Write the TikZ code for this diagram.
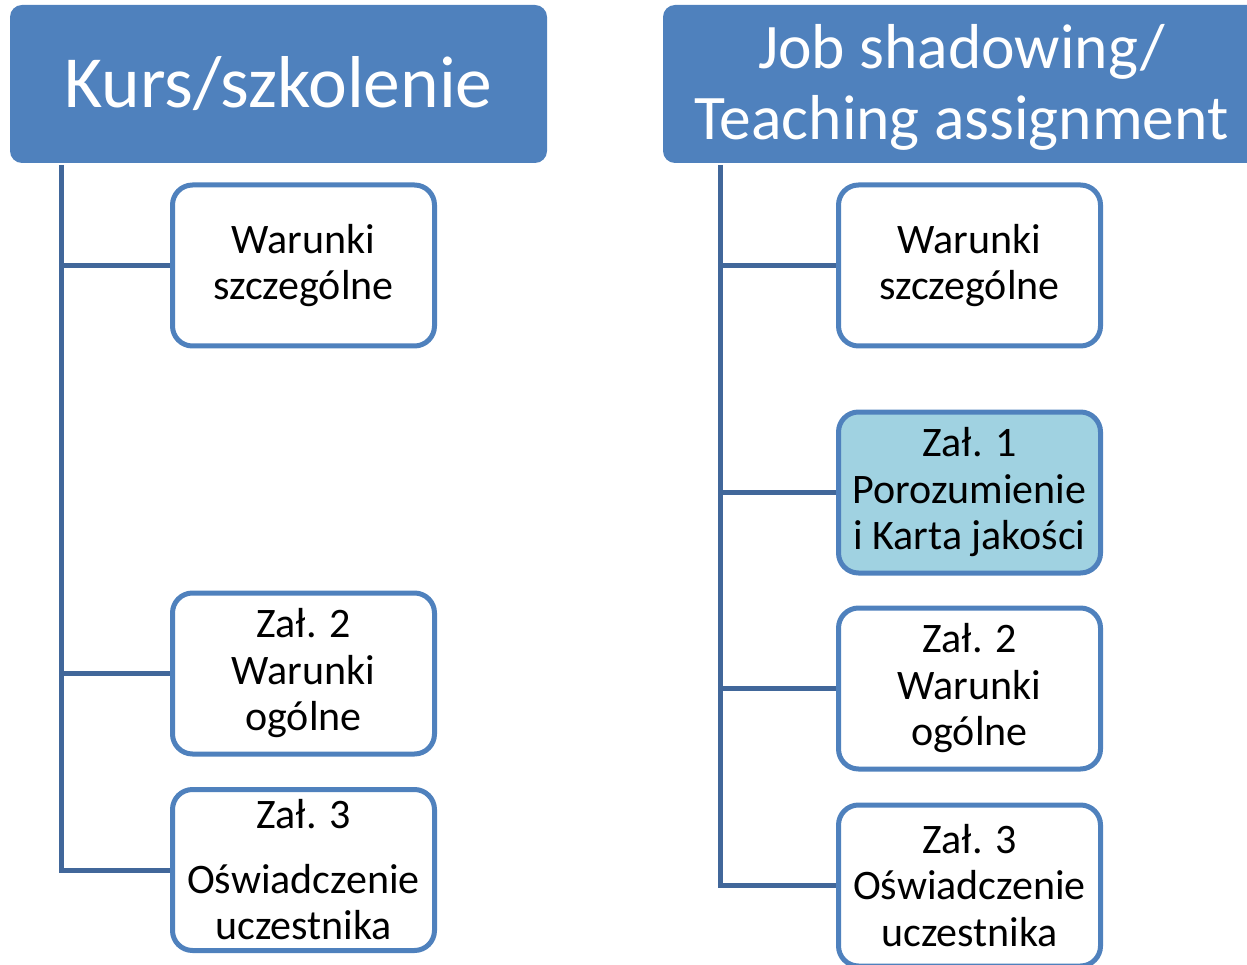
\documentclass[tikz,border=0pt]{standalone}
\usepackage{fontspec}
\setmainfont{Carlito}
\definecolor{hdrblue}{RGB}{79,129,189}
\definecolor{trunk}{RGB}{65,103,154}
\definecolor{lightfill}{RGB}{160,210,225}
\tikzset{
  hdr/.style={fill=hdrblue, rounded corners=12pt, text=white, align=center, inner sep=0pt},
  docbox/.style={draw=hdrblue, line width=5pt, fill=white, rounded corners=20pt,
     minimum width=262pt, minimum height=161pt, align=center, inner sep=0pt,
     font=\fontsize{42}{46.5}\selectfont},
  hl/.style={fill=lightfill},
  conn/.style={draw=trunk, line width=5pt}
}
\begin{document}
\begin{tikzpicture}[x=1pt,y=-1pt]
\useasboundingbox (0,0) rectangle (1247,965);
\clip (0,0) rectangle (1247,965);
% headers
\node[hdr, minimum width=537pt, minimum height=158pt, font=\fontsize{73.5}{80}\selectfont] (lh) at (278.5,84) {Kurs/szkolenie};
\node[hdr, minimum width=597pt, minimum height=158pt] (rh) at (961.5,84) {};
\node[text=white, align=center, inner sep=0pt, font=\fontsize{63.5}{71}\selectfont] (rht) at (961.5,87) {Job shadowing/\\Teaching assignment};
% left boxes
\node[docbox] (l1) at (303.5,265.5) {Warunki\\szczególne};
\node[docbox] (l2) at (303.5,673.5) {Zał. 2\\Warunki\\ogólne};
\node[docbox] (l3) at (303.5,870) {Zał. 3\\[18pt]Oświadczenie\\uczestnika};
% right boxes
\node[docbox] (r1) at (969.5,265.5) {Warunki\\szczególne};
\node[docbox, hl] (r2) at (969.5,492.5) {Zał. 1\\Porozumienie\\i Karta jakości};
\node[docbox] (r3) at (969.5,688.5) {Zał. 2\\Warunki\\ogólne};
\node[docbox] (r4) at (969.5,885.5) {Zał. 3\\Oświadczenie\\uczestnika};
% connectors
\coordinate (lt) at (61,165);
\coordinate (rt) at (720,165);
\draw[conn] (lt) |- (l3.west);
\draw[conn] (lt |- l1.west) -- (l1.west);
\draw[conn] (lt |- l2.west) -- (l2.west);
\draw[conn] (rt) |- (r4.west);
\draw[conn] (rt |- r1.west) -- (r1.west);
\draw[conn] (rt |- r2.west) -- (r2.west);
\draw[conn] (rt |- r3.west) -- (r3.west);
\end{tikzpicture}
\end{document}
